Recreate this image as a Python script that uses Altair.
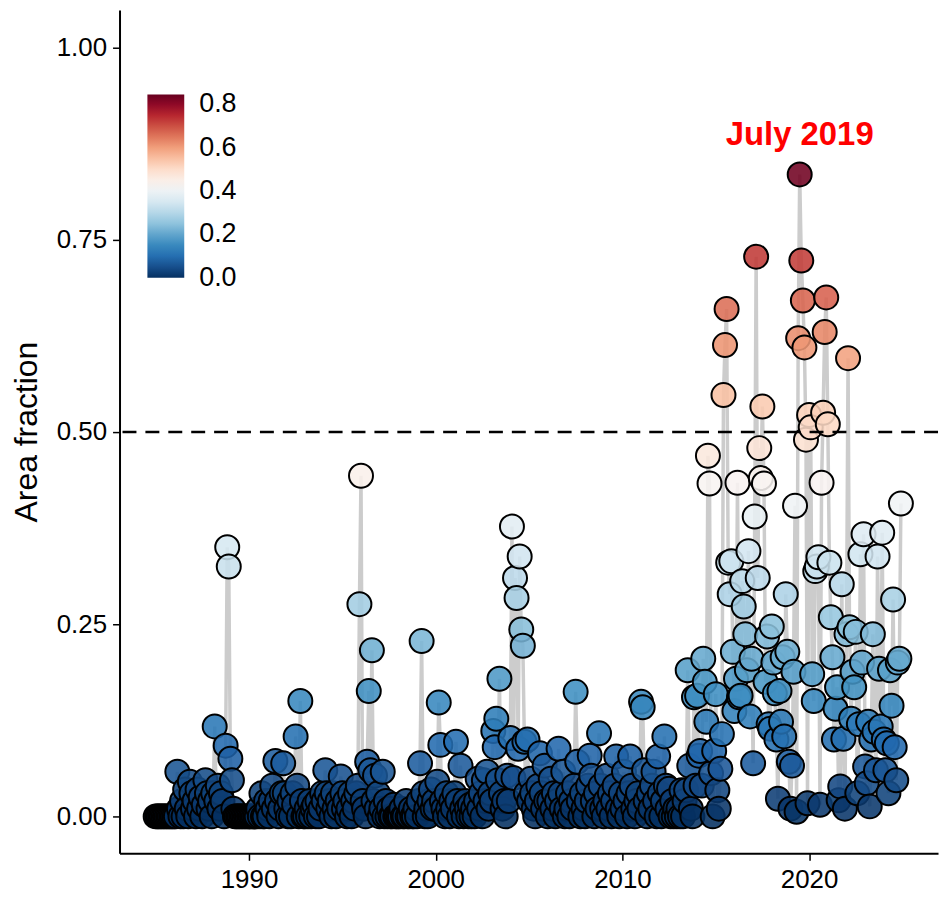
import altair as alt
import pandas as pd

# Monthly area fraction, January of the first year onward (12 values per year)
v1985_1989 = [
    0, 0, 0, 0, 0, 0, 0, 0, 0, 0, 0, 0,
    0, 0, 0.058, 0.01, 0, 0.02, 0, 0.035, 0.01, 0, 0.045, 0.03,
    0.01, 0.02, 0, 0.035, 0.01, 0.025, 0, 0.015, 0.047, 0.03, 0.01, 0.02,
    0, 0.03, 0.117, 0.02, 0.04, 0.01, 0.03, 0.02, 0, 0.092, 0.35, 0.325,
    0.075, 0.047, 0.01, 0, 0, 0, 0, 0, 0, 0, 0, 0,
]
v1990_1994 = [
    0, 0, 0, 0, 0, 0, 0.01, 0, 0.03, 0, 0, 0.02,
    0.01, 0, 0.02, 0.04, 0.01, 0.072, 0.02, 0, 0.01, 0.03, 0.069, 0.03,
    0.01, 0, 0.02, 0, 0.03, 0.015, 0.104, 0.04, 0, 0.15, 0.02, 0,
    0, 0.01, 0, 0.02, 0, 0.01, 0.015, 0, 0.02, 0, 0.01, 0.03,
    0.02, 0.06, 0.03, 0.01, 0.02, 0, 0.03, 0.01, 0, 0.02, 0.01, 0.052,
]
v1995_1999 = [
    0.03, 0.01, 0.02, 0, 0.01, 0.03, 0, 0.02, 0.01, 0.03, 0.04, 0.276,
    0.443, 0.02, 0.01, 0, 0.071, 0.163, 0.06, 0.216, 0.02, 0.053, 0.01, 0.03,
    0, 0.01, 0.058, 0, 0.02, 0, 0.01, 0, 0, 0.015, 0, 0,
    0, 0, 0.01, 0, 0, 0.02, 0, 0, 0.01, 0, 0, 0.01,
    0, 0.02, 0.069, 0.228, 0.03, 0, 0.01, 0, 0.02, 0.035, 0.01, 0.02,
]
v2000_2004 = [
    0.01, 0.045, 0.148, 0.093, 0.02, 0.01, 0, 0.03, 0.01, 0, 0.02, 0.01,
    0.03, 0.097, 0.02, 0, 0.066, 0.01, 0, 0.02, 0.01, 0, 0.015, 0,
    0.01, 0, 0.02, 0.049, 0.01, 0.03, 0, 0.047, 0.02, 0.058, 0.01, 0.03,
    0.02, 0.111, 0.09, 0.127, 0.047, 0.179, 0.03, 0.01, 0.02, 0, 0.053, 0.02,
    0.102, 0.377, 0.05, 0.31, 0.284, 0.088, 0.338, 0.243, 0.222, 0.097, 0.03, 0.1,
]
v2005_2009 = [
    0.02, 0.049, 0.03, 0.01, 0, 0.02, 0.04, 0.082, 0.03, 0.01, 0.066, 0.02,
    0, 0.02, 0.049, 0.01, 0.03, 0, 0.02, 0.088, 0.03, 0.01, 0.058, 0,
    0.01, 0.03, 0, 0.02, 0.01, 0.04, 0.162, 0.071, 0.02, 0, 0.03, 0.01,
    0, 0.02, 0.04, 0.079, 0.053, 0.02, 0, 0.03, 0.01, 0.108, 0.04, 0.01,
    0, 0.02, 0.053, 0.01, 0.03, 0, 0.02, 0.04, 0.078, 0.01, 0, 0.03,
]
v2010_2014 = [
    0.01, 0.058, 0.02, 0, 0.03, 0.078, 0.04, 0.01, 0, 0.02, 0.03, 0.01,
    0.149, 0.142, 0.06, 0.02, 0, 0.03, 0.01, 0.04, 0.058, 0.02, 0, 0.078,
    0.03, 0, 0.02, 0.104, 0.04, 0.01, 0.036, 0, 0.02, 0, 0.01, 0,
    0.01, 0, 0.034, 0, 0.02, 0.034, 0.19, 0.066, 0.01, 0, 0.155, 0.04,
    0.157, 0.079, 0.085, 0.04, 0.205, 0.175, 0.123, 0.469, 0.433, 0.056, 0, 0.085,
]
v2015_2019 = [
    0.159, 0.034, 0.01, 0.062, 0.107, 0.548, 0.613, 0.66, 0.33, 0.289, 0.332, 0.214,
    0.137, 0.179, 0.434, 0.155, 0.157, 0.306, 0.273, 0.237, 0.19, 0.345, 0.13, 0.205,
    0.069, 0.39, 0.728, 0.31, 0.479, 0.44, 0.533, 0.433, 0.175, 0.234, 0.12, 0.114,
    0.247, 0.2, 0.16, 0.1, 0.023, 0.163, 0.123, 0.207, 0.104, 0.289, 0.214, 0.071,
    0.01, 0.066, 0.188, 0.404, 0.006, 0.622, 0.835, 0.723, 0.671, 0.61, 0.49, 0.017,
]
v2020_2024 = [
    0.522, 0.506, 0.185, 0.15, 0.319, 0.325, 0.337, 0.015, 0.434, 0.525, 0.63, 0.675,
    0.51, 0.33, 0.259, 0.207, 0.1, 0.14, 0.168, 0.021, 0.039, 0.302, 0.101, 0.01,
    0.237, 0.596, 0.246, 0.127, 0.188, 0.168, 0.24, 0.03, 0.12, 0.341, 0.2, 0.367,
    0.065, 0.043, 0.123, 0.013, 0.1, 0.237, 0.11, 0.06, 0.338, 0.192, 0.117, 0.369,
    0.1, 0.06, 0.095, 0.03, 0.19, 0.144, 0.282, 0.09, 0.047, 0.2, 0.205, 0.407,
]

blocks = [
    (1985, v1985_1989), (1990, v1990_1994), (1995, v1995_1999), (2000, v2000_2004),
    (2005, v2005_2009), (2010, v2010_2014), (2015, v2015_2019), (2020, v2020_2024),
]

# RdBu palette (blue -> red)
palette = ["#053061", "#2166ac", "#4393c3", "#92c5de", "#d1e5f0", "#f7f7f7",
           "#fddbc7", "#f4a582", "#d6604d", "#b2182b", "#67001f"]
color_max = 0.846

rows = []
for start, vals in blocks:
    for i, v in enumerate(vals):
        yr = start + i // 12
        mo = i % 12 + 1
        rows.append({"date": f"{yr}-{mo:02d}-01", "value": v})
df = pd.DataFrame(rows)

peak = df.loc[df["value"].idxmax()]
peak_df = pd.DataFrame([{"date": peak["date"], "value": peak["value"], "label": "July 2019"}])

FONT = "Liberation Sans"

def ms(s):
    return int(pd.Timestamp(s).value // 10**6)

x_scale = alt.Scale(domain=[ms("1983-01-25"), ms("2026-11-27")])
y_scale = alt.Scale(domain=[-0.048, 1.049], nice=False, zero=False)

x_enc = alt.X(
    "date:T",
    scale=x_scale,
    title=None,
    axis=alt.Axis(
        values=[alt.DateTime(year=y, month=1, date=1) for y in [1990, 2000, 2010, 2020]],
        format="%Y",
        grid=False,
    ),
)
y_enc = alt.Y(
    "value:Q",
    scale=y_scale,
    title="Area fraction",
    axis=alt.Axis(values=[0, 0.25, 0.5, 0.75, 1.0], format=".2f", grid=False),
)

base = alt.Chart(df)

line = base.mark_line(color="#cccccc", strokeWidth=3.5).encode(x=x_enc, y=y_enc)

n = len(palette)
color_domain = [-0.0005 + (color_max + 0.0005) * i / (n - 1) for i in range(n)]

points = base.mark_circle(
    size=580, stroke="black", strokeWidth=2, fillOpacity=0.88, opacity=1
).encode(
    x=x_enc,
    y=y_enc,
    color=alt.Color(
        "value:Q",
        scale=alt.Scale(domain=color_domain, range=palette, type="linear"),
        legend=alt.Legend(
            title=None,
            orient="none",
            legendX=28,
            legendY=85,
            direction="vertical",
            gradientLength=184,
            gradientThickness=37,
            gradientStrokeWidth=0,
            values=[0, 0.2, 0.4, 0.6, 0.8],
            format=".1f",
            labelFontSize=27,
            labelFont=FONT,
            labelColor="black",
            labelBaseline="middle",
            labelOffset=15,
            padding=0,
        ),
    ),
)

rule = alt.Chart(pd.DataFrame({"y": [0.5]})).mark_rule(
    color="black", strokeWidth=2.5, strokeDash=[14, 9]
).encode(y=alt.Y("y:Q", scale=y_scale))

label = alt.Chart(peak_df).mark_text(
    color="red", fontSize=33, fontWeight="bold", font=FONT, dy=-40, baseline="middle"
).encode(x=alt.X("date:T", scale=x_scale), y=alt.Y("value:Q", scale=y_scale), text="label:N")

chart = (
    alt.layer(line, points, rule, label)
    .properties(
        width=822,
        height=847,
        autosize=alt.AutoSizeParams(type="none"),
        padding={"left": 112, "top": 0, "right": 5, "bottom": 40},
    )
    .configure_view(stroke=None)
    .configure_axis(
        domainColor="black",
        domainWidth=2,
        tickColor="black",
        tickWidth=1.5,
        tickSize=7,
        labelFontSize=26,
        labelFont=FONT,
        labelColor="black",
        labelPadding=6,
        titleFont=FONT,
        titleFontSize=32,
        titleFontWeight="normal",
        titleColor="black",
        titlePadding=13,
    )
)

chart.save("out.html", embed_options={"renderer": "svg", "actions": False})
